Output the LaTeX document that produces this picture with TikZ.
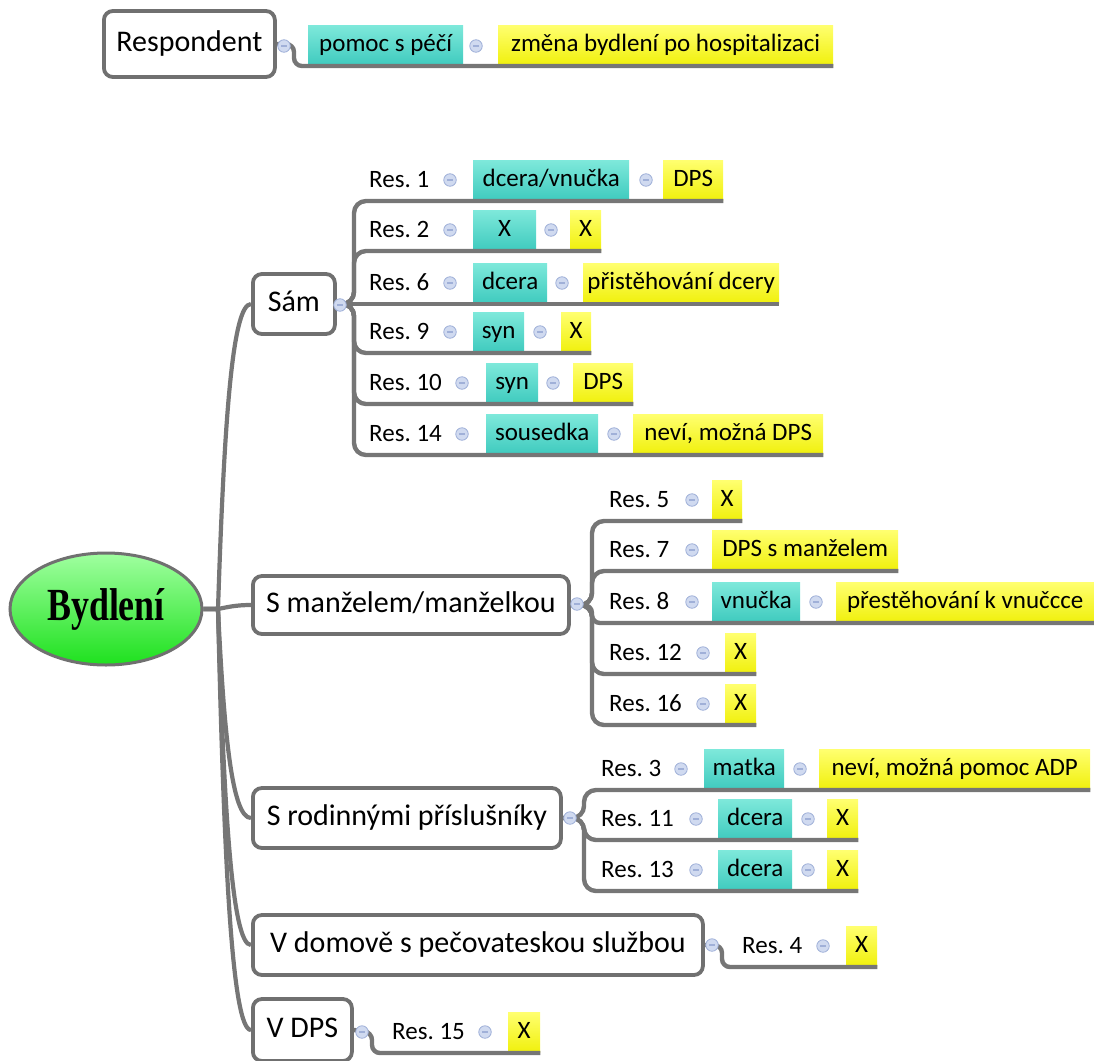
\documentclass[tikz,border=0pt]{standalone}
\usepackage{fontspec}
\usepackage{graphicx}
\setmainfont{Carlito}
\newfontfamily\rootfont{Liberation Serif}
\usetikzlibrary{shapes.geometric}
\definecolor{lineGray}{RGB}{118,118,118}
\definecolor{boxGray}{RGB}{112,112,112}
\definecolor{cyanTop}{RGB}{125,232,218}
\definecolor{cyanBot}{RGB}{62,202,190}
\definecolor{yelTop}{RGB}{255,255,110}
\definecolor{yelBot}{RGB}{240,240,10}
\definecolor{knobFill}{RGB}{208,218,240}
\definecolor{knobEdge}{RGB}{160,176,216}
\definecolor{greenTop}{RGB}{160,255,160}
\definecolor{greenBot}{RGB}{30,225,30}
\frenchspacing
\begin{document}
\begin{tikzpicture}[x=1pt,y=-1pt,
  conn/.style={draw=lineGray, line width=4.4pt, rounded corners=12pt},
  trunk/.style={draw=lineGray, line width=4.2pt},
  topic/.style={draw=boxGray, line width=3.8pt, rounded corners=9pt, fill=white, inner sep=0pt, anchor=west,
    font=\fontsize{30}{36}\selectfont, text height=20pt, text depth=6pt, minimum height=60pt},
  tag/.style={inner sep=0pt, minimum height=40pt, anchor=south west, font=\fontsize{25}{30}\selectfont,
    text height=17pt, text depth=5pt},
  cyanbox/.style={tag, top color=cyanTop, bottom color=cyanBot},
  yelbox/.style={tag, top color=yelTop, bottom color=yelBot},
  lbl/.style={inner sep=0pt, anchor=base west, font=\fontsize{25}{30}\selectfont},
  knob/.style={circle, minimum size=12.5pt, inner sep=0pt, fill=knobFill, draw=knobEdge, line width=0.8pt,
    path picture={\draw[knobEdge, line width=1.3pt] ([xshift=-3pt]path picture bounding box.center) -- ([xshift=3pt]path picture bounding box.center);}},
]
\useasboundingbox (0,0) rectangle (1094,1060);

% ---------- header row ----------
\node[topic, minimum width=171pt, minimum height=66pt] (resp) at (102,44) {Respondent};
\node[cyanbox, minimum width=155pt] (h1a) at (308,66) {pomoc s péčí};
\node[yelbox, minimum width=335pt] (h1b) at (498,66) {změna bydlení po hospitalizaci};
\draw[conn, rounded corners=8pt] (resp.east) -- (294,44) |- (h1b.south east);
\node[knob] (kResp) at (284,46) {};
\node[knob] (kh1) at (476,46) {};

% ---------- root and main topics ----------
\node[ellipse, draw=boxGray, line width=3pt, top color=greenTop, bottom color=greenBot,
  minimum width=192pt, minimum height=112pt, inner sep=0pt] (root) at (106,609)
  {\rootfont\bfseries\fontsize{46}{50}\selectfont\scalebox{0.78}[1]{Bydlení}};

\node[topic, minimum width=82pt] (sam) at (251,304) {Sám};
\node[topic, minimum width=316pt, minimum height=58pt] (manz) at (251,605) {S manželem/manželkou};
\node[topic, minimum width=308pt] (rod) at (251,818) {S rodinnými příslušníky};
\node[topic, minimum width=450pt] (dom) at (251,945) {V domově s pečovateskou službou};
\node[topic, minimum width=99pt, minimum height=62pt] (vdps) at (251,1030) {V DPS};

\draw[trunk] (root.east) -- (218,609) .. controls (224,426) and (232,304) .. (sam.west);
\draw[trunk] (root.east) -- (218,609) .. controls (228,607) and (236,605) .. (manz.west);
\draw[trunk] (root.east) -- (218,609) .. controls (224,734) and (232,818) .. (rod.west);
\draw[trunk] (root.east) -- (218,609) .. controls (224,811) and (232,945) .. (dom.west);
\draw[trunk] (root.east) -- (218,609) .. controls (224,862) and (232,1030) .. (vdps.west);

% ---------- Sám ----------
\node[lbl] (s1) at (369,187) {Res. 1};
\node[cyanbox, minimum width=156pt] (s1a) at (473,201) {dcera/vnučka};
\node[yelbox, minimum width=60pt] (s1b) at (663,201) {DPS};
\node[lbl] (s2) at (369,237) {Res. 2};
\node[cyanbox, minimum width=63pt] (s2a) at (473,251) {X};
\node[yelbox, minimum width=31pt] (s2b) at (570,251) {X};
\node[lbl] (s3) at (369,290) {Res. 6};
\node[cyanbox, minimum width=74pt] (s3a) at (473,304) {dcera};
\node[yelbox, minimum width=196pt] (s3b) at (583,304) {přistěhování dcery};
\node[lbl] (s4) at (369,339) {Res. 9};
\node[cyanbox, minimum width=51pt] (s4a) at (473,353) {syn};
\node[yelbox, minimum width=30pt] (s4b) at (561,353) {X};
\node[lbl] (s5) at (369,390) {Res. 10};
\node[cyanbox, minimum width=52pt] (s5a) at (486,404) {syn};
\node[yelbox, minimum width=60pt] (s5b) at (573,404) {DPS};
\node[lbl] (s6) at (369,441) {Res. 14};
\node[cyanbox, minimum width=112pt] (s6a) at (486,455) {sousedka};
\node[yelbox, minimum width=190pt] (s6b) at (633,455) {neví, možná DPS};

\draw[conn] (sam.east) -- (354,304) |- (s1b.south east);
\draw[conn] (sam.east) -- (354,304) |- (s2b.south east);
\draw[conn] (sam.east) -- (s3b.south east);
\draw[conn] (sam.east) -- (354,304) |- (s4b.south east);
\draw[conn] (sam.east) -- (354,304) |- (s5b.south east);
\draw[conn] (sam.east) -- (354,304) |- (s6b.south east);

\node[knob] (kSam) at (340,305) {};
\node[knob] (ks1) at (450,180) {};
\node[knob] (ks1b) at (646,180) {};
\node[knob] (ks2) at (450,230) {};
\node[knob] (ks2b) at (551,230) {};
\node[knob] (ks3) at (450,283) {};
\node[knob] (ks3b) at (562,283) {};
\node[knob] (ks4) at (450,332) {};
\node[knob] (ks4b) at (540,332) {};
\node[knob] (ks5) at (462,383) {};
\node[knob] (ks5b) at (553,383) {};
\node[knob] (ks6) at (462,434) {};
\node[knob] (ks6b) at (614,434) {};

% ---------- S manželem/manželkou ----------
\node[lbl] (m1) at (609,507) {Res. 5};
\node[yelbox, minimum width=30pt] (m1b) at (712,521) {X};
\node[lbl] (m2) at (609,557) {Res. 7};
\node[yelbox, minimum width=186pt] (m2b) at (712,571) {DPS s manželem};
\node[lbl] (m3) at (609,609) {Res. 8};
\node[cyanbox, minimum width=88pt] (m3a) at (712,623) {vnučka};
\node[yelbox, minimum width=258pt] (m3b) at (836,623) {přestěhování k vnučcce};
\node[lbl] (m4) at (609,660) {Res. 12};
\node[yelbox, minimum width=31pt] (m4b) at (725,674) {X};
\node[lbl] (m5) at (609,711) {Res. 16};
\node[yelbox, minimum width=31pt] (m5b) at (725,725) {X};

\draw[conn] (manz.east) -- (592,605) |- (m1b.south east);
\draw[conn] (manz.east) -- (592,605) |- (m2b.south east);
\draw[conn, rounded corners=8pt] (manz.east) -- (592,605) |- (m3b.south east);
\draw[conn] (manz.east) -- (592,605) |- (m4b.south east);
\draw[conn] (manz.east) -- (592,605) |- (m5b.south east);

\node[knob] (kManz) at (577,604) {};
\node[knob] (km1) at (692,500) {};
\node[knob] (km2) at (692,550) {};
\node[knob] (km3) at (692,602) {};
\node[knob] (km3b) at (816,602) {};
\node[knob] (km4) at (703,653) {};
\node[knob] (km5) at (703,704) {};

% ---------- S rodinnými příslušníky ----------
\node[lbl] (f1) at (601,776) {Res. 3};
\node[cyanbox, minimum width=80pt] (f1a) at (704,790) {matka};
\node[yelbox, minimum width=271pt] (f1b) at (819,790) {neví, možná pomoc ADP};
\node[lbl] (f2) at (601,826) {Res. 11};
\node[cyanbox, minimum width=74pt] (f2a) at (718,840) {dcera};
\node[yelbox, minimum width=31pt] (f2b) at (827,840) {X};
\node[lbl] (f3) at (601,877) {Res. 13};
\node[cyanbox, minimum width=74pt] (f3a) at (718,891) {dcera};
\node[yelbox, minimum width=31pt] (f3b) at (827,891) {X};

\draw[conn] (rod.east) -- (584,818) |- (f1b.south east);
\draw[conn] (rod.east) -- (584,818) |- (f2b.south east);
\draw[conn] (rod.east) -- (584,818) |- (f3b.south east);

\node[knob] (kRod) at (570,818) {};
\node[knob] (kf1) at (681,769) {};
\node[knob] (kf1b) at (800,769) {};
\node[knob] (kf2) at (696,819) {};
\node[knob] (kf2b) at (808,819) {};
\node[knob] (kf3) at (696,870) {};
\node[knob] (kf3b) at (808,870) {};

% ---------- V domově s pečovateskou službou ----------
\node[lbl] (d1) at (742,953) {Res. 4};
\node[yelbox, minimum width=31pt] (d1b) at (846,967) {X};
\draw[conn, rounded corners=8pt] (dom.east) -- (722,945) |- (d1b.south east);
\node[knob] (kDom) at (712,945) {};
\node[knob] (kd1) at (823,946) {};

% ---------- V DPS ----------
\node[lbl] (v1) at (392,1039) {Res. 15};
\node[yelbox, minimum width=32pt] (v1b) at (508,1053) {X};
\draw[conn, rounded corners=8pt] (vdps.east) -- (372,1032) |- (v1b.south east);
\node[knob] (kVdps) at (362,1032) {};
\node[knob] (kv1) at (485,1032) {};
\end{tikzpicture}
\end{document}
